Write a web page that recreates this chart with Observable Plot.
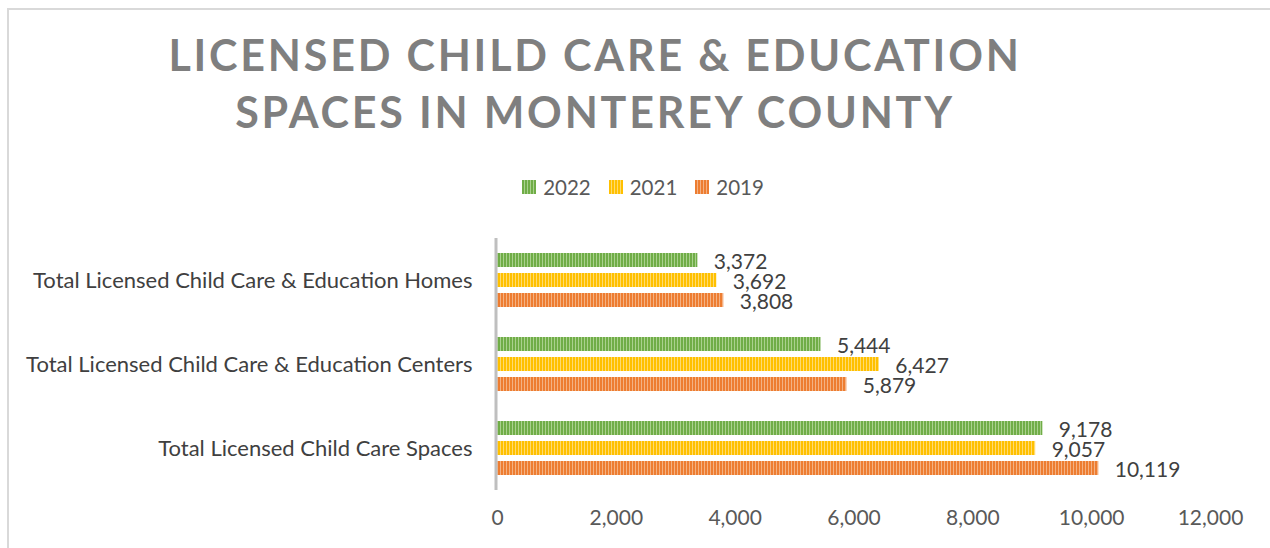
<!DOCTYPE html>
<html><head><meta charset="utf-8">
<script src="https://cdn.jsdelivr.net/npm/d3@7"></script>
<script src="https://cdn.jsdelivr.net/npm/@observablehq/plot@0.6"></script>
<style>
body{margin:0;background:#fff;width:1270px;height:548px;overflow:hidden;position:relative;font-family:Lato,sans-serif}
#frame{position:absolute;left:7px;top:8px;width:1400px;height:700px;border-left:2px solid #d9d9d9;border-top:2px solid #d9d9d9;box-sizing:border-box}
#title{position:absolute;left:0;width:1190px;top:26px;text-align:center;font-family:Lato,sans-serif;font-weight:700;font-size:43px;letter-spacing:2.8px;color:#7f7f7f;line-height:57px}
#legend{position:absolute;top:175px;left:0;width:1286px;display:flex;justify-content:center;align-items:center;font-size:20.5px;color:#595959}
#legend .item{display:flex;align-items:center;margin:0 9px}
#legend .sw{width:14px;height:14px;margin-right:7px}
#chart{position:absolute;left:0;top:230px}
</style></head>
<body>
<div id="frame"></div>
<div id="title">LICENSED CHILD CARE &amp; EDUCATION<br>SPACES IN MONTEREY COUNTY</div>
<div id="legend"></div>
<div id="chart"></div>
<script>
const categories = ["Total Licensed Child Care & Education Homes", "Total Licensed Child Care & Education Centers", "Total Licensed Child Care Spaces"];
const years = ["2022", "2021", "2019"];
const values2022 = [3372, 5444, 9178];
const values2021 = [3692, 6427, 9057];
const values2019 = [3808, 5879, 10119];
const xTicks = [0, 2000, 4000, 6000, 8000, 10000, 12000];
const colors = {"2022": ["#70ad47", "#a9d18e"], "2021": ["#ffc000", "#ffdb70"], "2019": ["#ed7d31", "#f4b183"]};

const series = {"2022": values2022, "2021": values2021, "2019": values2019};
const data = [];
categories.forEach((c, i) => years.forEach(y => data.push({category: c, year: y, value: series[y][i]})));

const fmt = d3.format(",");
const chart = Plot.plot({
  width: 1270, height: 318,
  marginTop: 8, marginBottom: 58, marginLeft: 497, marginRight: 60,
  x: {domain: [0, 12000], axis: null},
  y: {domain: years, axis: null, paddingInner: 0.3, paddingOuter: 0.75},
  fy: {domain: categories, padding: 0, axis: null},
  color: {domain: years, range: years.map(y => `url(#pat${y})`)},
  marks: [
    Plot.barX(data, {fy: "category", y: "year", x: "value", fill: "year"}),
    Plot.ruleX([0], {stroke: "#bfbfbf", strokeWidth: 3, dx: -1.5}),
    Plot.text(data, {fy: "category", y: "year", x: "value", text: d => fmt(d.value), textAnchor: "start", dx: 16, dy: 2, fontSize: 21, fill: "#404040"}),
    Plot.axisFy({anchor: "left", tickSize: 0, tickPadding: 25, fontSize: 22, fill: "#404040", label: null}),
    Plot.axisX({ticks: xTicks, tickFormat: fmt, tickSize: 0, tickPadding: 20, fontSize: 21, fill: "#595959", label: null})
  ],
  style: {fontFamily: "Lato, sans-serif", background: "transparent"}
});

const defs = years.map(y => `<pattern id="pat${y}" patternUnits="userSpaceOnUse" width="3" height="10"><rect width="3" height="10" fill="${colors[y][1]}"/><rect width="2" height="10" fill="${colors[y][0]}"/></pattern>`).join("");
d3.select(chart).insert("defs", ":first-child").html(defs);
document.getElementById("chart").appendChild(chart);

const legend = d3.select("#legend");
years.forEach(y => {
  const it = legend.append("div").attr("class", "item");
  it.append("div").attr("class", "sw").style("background", `repeating-linear-gradient(90deg, ${colors[y][0]} 0 2px, ${colors[y][1]} 2px 3px)`);
  it.append("span").text(y);
});
</script>
</body></html>
